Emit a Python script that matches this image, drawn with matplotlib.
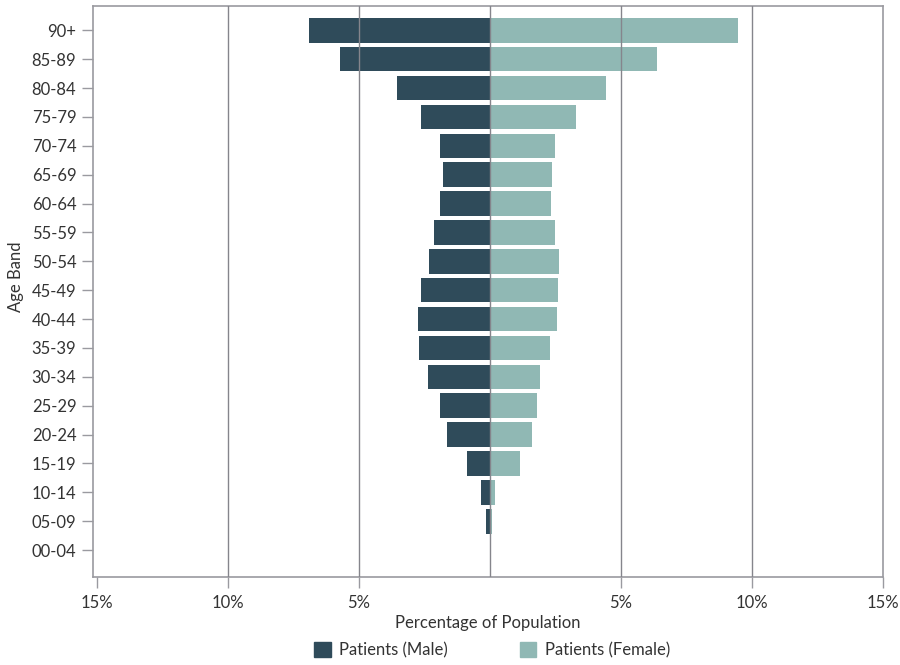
import matplotlib
matplotlib.use("Agg")
from matplotlib import pyplot as plt
from matplotlib.patches import Patch

age_bands = ["00-04", "05-09", "10-14", "15-19", "20-24", "25-29", "30-34", "35-39",
             "40-44", "45-49", "50-54", "55-59", "60-64", "65-69", "70-74", "75-79",
             "80-84", "85-89", "90+"]
male = [0.0, 0.15, 0.34, 0.87, 1.63, 1.90, 2.35, 2.70, 2.73, 2.62, 2.32, 2.13,
        1.90, 1.79, 1.90, 2.62, 3.53, 5.73, 6.91]
female = [0.0, 0.08, 0.19, 1.14, 1.60, 1.79, 1.90, 2.28, 2.54, 2.58, 2.62, 2.47,
          2.32, 2.35, 2.47, 3.30, 4.41, 6.38, 9.46]
x_ticks = [-15, -10, -5, 5, 10, 15]
x_labels = ["15%", "10%", "5%", "5%", "10%", "15%"]

male_color = "#2f4b5a"
female_color = "#90b8b4"
grid_color = "#85858c"
text_color = "#333333"
fs = 12

plt.rcParams['font.family'] = ['Lato', 'DejaVu Sans']

fig = plt.figure(figsize=(9, 6.65), dpi=100)
ax = fig.add_axes([93/900, 88/665, 790/900, 571/665])

ypos = list(range(len(age_bands)))
ax.barh(ypos, [-m for m in male], height=0.85, color=male_color, zorder=2)
ax.barh(ypos, female, height=0.85, color=female_color, zorder=2)

# grid drawn over the bars, as in the original
for x in [-10, -5, 0, 5, 10]:
    ax.axvline(x, color=grid_color, lw=1, zorder=3)

ax.set_xlim(-15.15, 15)
ax.set_ylim(-0.93, 18.84)
ax.set_xticks(x_ticks)
ax.set_xticklabels(x_labels, fontsize=fs, color=text_color)
ax.set_yticks(ypos)
ax.set_yticklabels(age_bands, fontsize=fs, color=text_color)
ax.tick_params(axis="both", length=8, width=1, color="#9a9aa0", pad=4)
ax.tick_params(axis="x", pad=5)
for s in ax.spines.values():
    s.set_color("#9a9aa0")
    s.set_linewidth(1.2)

ax.set_xlabel("Percentage of Population", fontsize=fs, color=text_color, labelpad=3)
fig.text(16/900, 1 - 277/665, "Age Band", rotation=90, ha="center", va="center",
         fontsize=fs, color=text_color)

handles = [Patch(color=male_color, label="Patients (Male)"),
           Patch(color=female_color, label="Patients (Female)")]
fig.legend(handles=handles, loc="center", bbox_to_anchor=(492/900, 1 - 650/665),
           ncol=2, frameon=False, fontsize=fs, handlelength=1.0, handleheight=1.0,
           columnspacing=4.3, handletextpad=0.5, labelcolor=text_color)

plt.savefig("out.png", dpi=100)
